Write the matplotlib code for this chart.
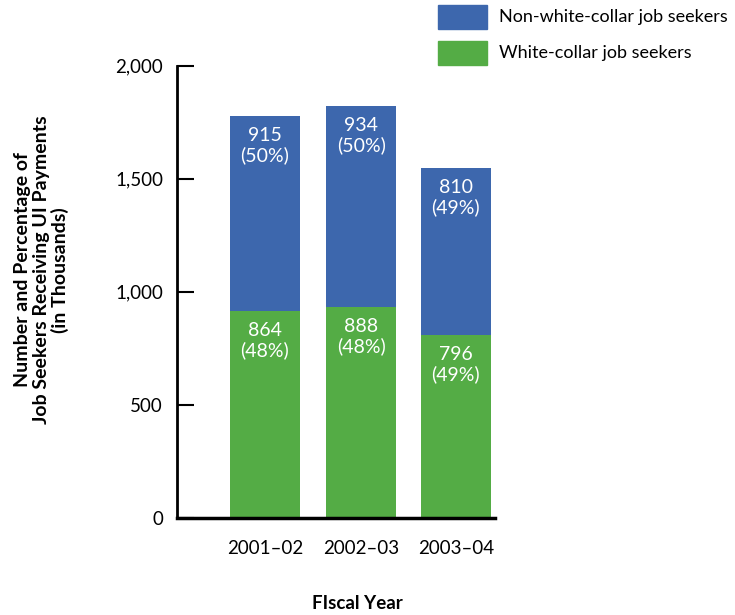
import matplotlib.pyplot as plt
import matplotlib.patches as mpatches
import numpy as np

years = ['2001\u201302', '2002\u201303', '2003\u201304']

# numbers printed on the bars
whiteCollar = [864, 888, 796]
whitePct = [48, 48, 49]
nonWhiteCollar = [915, 934, 810]
nonWhitePct = [50, 50, 49]

# segment heights as drawn in the chart
whiteCollarBar = [916, 932, 808]
nonWhiteCollarBar = [861, 890, 741]

yTicks = [0, 500, 1000, 1500, 2000]
seriesNames = ['Non-white-collar job seekers', 'White-collar job seekers']

blue = '#3d67ad'
green = '#54ac45'

plt.rcParams['font.family'] = ['Lato', 'DejaVu Sans']

fig = plt.figure(figsize=(7.35, 6.15), dpi=100)
ax = fig.add_axes([0.2408, 0.1583, 0.4327, 0.7350])

x = np.array([0, 1.01, 2.0])
barWidth = 0.73

ax.bar(x, whiteCollarBar, barWidth, color=green)
ax.bar(x, nonWhiteCollarBar, barWidth, bottom=whiteCollarBar, color=blue)

# labels inside each segment, near its top
for i in range(len(x)):
    top1 = whiteCollarBar[i]
    ax.annotate('%d\n(%d%%)' % (whiteCollar[i], whitePct[i]), (x[i], top1),
                xytext=(0, -8), textcoords='offset points', ha='center', va='top',
                color='white', fontsize=14, linespacing=1.15)
    top2 = whiteCollarBar[i] + nonWhiteCollarBar[i]
    ax.annotate('%d\n(%d%%)' % (nonWhiteCollar[i], nonWhitePct[i]), (x[i], top2),
                xytext=(0, -8), textcoords='offset points', ha='center', va='top',
                color='white', fontsize=14, linespacing=1.15)

ax.set_xlim(-0.92, 2.41)
ax.set_ylim(0, 2000)
ax.set_yticks(yTicks)
ax.set_yticklabels(['{:,}'.format(t) for t in yTicks], fontsize=13.5)
ax.tick_params(axis='y', direction='in', length=12, width=1.5, pad=10)
ax.set_xticks(x)
ax.set_xticklabels(years, fontsize=13.5)
ax.tick_params(axis='x', length=0, pad=16)

for s in ['top', 'right']:
    ax.spines[s].set_visible(False)
ax.spines['left'].set_linewidth(2)
ax.spines['bottom'].set_linewidth(2.5)

fig.text(0.486, 0.0195, 'FIscal Year', ha='center', va='center', fontsize=13.5, fontweight='bold')
fig.text(0.057, 0.561, 'Number and Percentage of\nJob Seekers Receiving UI Payments\n(in Thousands)',
         ha='center', va='center', rotation=90, fontsize=14, fontweight='bold', linespacing=1.1)

# legend drawn by hand to sit where the original has it
colors = [blue, green]
for k in range(len(seriesNames)):
    top = 5 + 36 * k
    fig.patches.append(mpatches.Rectangle((438 / 735, 1 - (top + 24) / 615), 49 / 735, 24 / 615,
                                          transform=fig.transFigure, color=colors[k]))
    fig.text(499 / 735, 1 - (top + 12) / 615, seriesNames[k], ha='left', va='center', fontsize=13)

fig.savefig('out.png', dpi=100)
